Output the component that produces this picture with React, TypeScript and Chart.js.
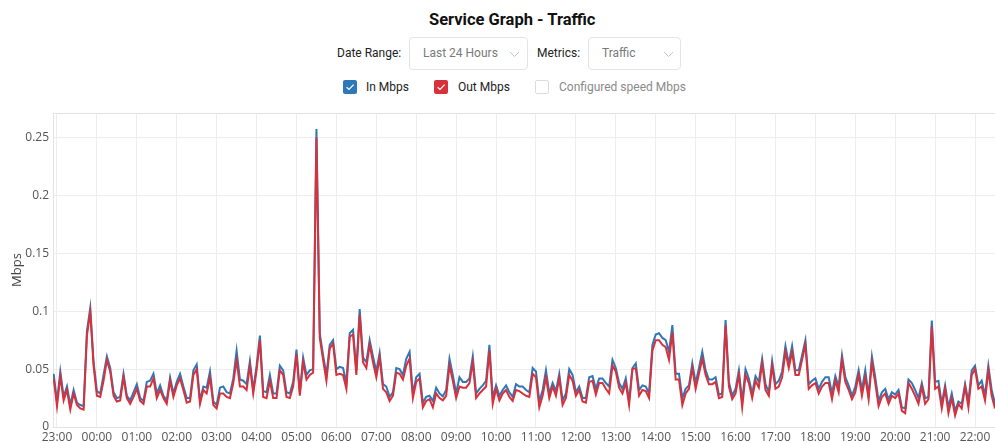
import React, { useEffect, useRef } from "react";
import { Chart, registerables } from "chart.js";

Chart.register(...registerables);

// Time axis: samples every 5 minutes, first sample at 22:55 (minutes relative to 23:00)
const START_MINUTE = -5;
const STEP_MINUTES = 5;

const HOUR_LABELS = [
  "23:00", "00:00", "01:00", "02:00", "03:00", "04:00", "05:00", "06:00",
  "07:00", "08:00", "09:00", "10:00", "11:00", "12:00", "13:00", "14:00",
  "15:00", "16:00", "17:00", "18:00", "19:00", "20:00", "21:00", "22:00",
];

const Y_TICK_LABELS = ["0", "0.05", "0.1", "0.15", "0.2", "0.25"];

// In Mbps (blue)
const IN_MBPS = [
  0.046, 0.022, 0.048, 0.026, 0.035, 0.019, 0.032, 0.021, 0.019, 0.018,
  0.083, 0.103, 0.056, 0.031, 0.029, 0.045, 0.061, 0.051, 0.030, 0.025,
  0.026, 0.046, 0.027, 0.023, 0.030, 0.037, 0.025, 0.0225, 0.039, 0.040,
  0.046, 0.029, 0.036, 0.027, 0.023, 0.043, 0.029, 0.039, 0.046, 0.035,
  0.025, 0.025, 0.049, 0.054, 0.023, 0.035, 0.034, 0.048, 0.022, 0.019,
  0.034, 0.035, 0.030, 0.029, 0.042, 0.066, 0.041, 0.040, 0.037, 0.057,
  0.032, 0.053, 0.079, 0.031, 0.030, 0.045, 0.029, 0.029, 0.053, 0.049,
  0.030, 0.029, 0.039, 0.067, 0.030, 0.060, 0.045, 0.049, 0.050, 0.2575,
  0.081, 0.062, 0.045, 0.071, 0.075, 0.050, 0.052, 0.051, 0.038, 0.081,
  0.084, 0.049, 0.102, 0.060, 0.056, 0.075, 0.061, 0.048, 0.064, 0.037,
  0.035, 0.026, 0.030, 0.051, 0.050, 0.045, 0.059, 0.065, 0.029, 0.043,
  0.046, 0.021, 0.026, 0.027, 0.0225, 0.034, 0.029, 0.0265, 0.032, 0.059,
  0.045, 0.029, 0.043, 0.039, 0.039, 0.042, 0.061, 0.029, 0.033, 0.036,
  0.040, 0.071, 0.025, 0.036, 0.027, 0.032, 0.036, 0.030, 0.026, 0.037,
  0.035, 0.035, 0.032, 0.030, 0.051, 0.048, 0.022, 0.032, 0.049, 0.029,
  0.038, 0.031, 0.046, 0.023, 0.029, 0.050, 0.045, 0.030, 0.035, 0.025,
  0.025, 0.043, 0.044, 0.033, 0.042, 0.042, 0.038, 0.035, 0.058, 0.051,
  0.038, 0.033, 0.042, 0.023, 0.051, 0.055, 0.032, 0.036, 0.035, 0.029,
  0.071, 0.080, 0.081, 0.077, 0.075, 0.065, 0.088, 0.046, 0.046, 0.025,
  0.033, 0.036, 0.055, 0.038, 0.051, 0.065, 0.049, 0.041, 0.041, 0.043,
  0.028, 0.029, 0.0925, 0.039, 0.027, 0.033, 0.049, 0.022, 0.050, 0.042,
  0.029, 0.044, 0.039, 0.059, 0.037, 0.030, 0.057, 0.037, 0.040, 0.048,
  0.070, 0.055, 0.070, 0.049, 0.049, 0.062, 0.075, 0.037, 0.040, 0.042,
  0.033, 0.039, 0.043, 0.043, 0.029, 0.044, 0.035, 0.062, 0.043, 0.036,
  0.027, 0.035, 0.049, 0.032, 0.049, 0.027, 0.061, 0.043, 0.0225, 0.030,
  0.033, 0.024, 0.030, 0.028, 0.032, 0.017, 0.016, 0.041, 0.038, 0.032,
  0.025, 0.038, 0.025, 0.026, 0.092, 0.039, 0.040, 0.020, 0.036, 0.017,
  0.029, 0.014, 0.022, 0.020, 0.037, 0.022, 0.049, 0.053, 0.036, 0.040,
  0.027, 0.053, 0.032, 0.020,
];

// Out Mbps (red)
const OUT_MBPS = [
  0.042, 0.018, 0.044, 0.023, 0.032, 0.015, 0.029, 0.019, 0.016, 0.015,
  0.079, 0.0995, 0.053, 0.027, 0.026, 0.040, 0.058, 0.048, 0.027, 0.022,
  0.023, 0.043, 0.025, 0.020, 0.026, 0.033, 0.0225, 0.020, 0.035, 0.035,
  0.042, 0.025, 0.032, 0.025, 0.020, 0.040, 0.026, 0.036, 0.042, 0.032,
  0.021, 0.022, 0.045, 0.050, 0.020, 0.032, 0.029, 0.043, 0.019, 0.016,
  0.029, 0.029, 0.026, 0.025, 0.038, 0.058, 0.035, 0.035, 0.032, 0.053,
  0.029, 0.049, 0.075, 0.026, 0.025, 0.040, 0.025, 0.025, 0.049, 0.045,
  0.026, 0.025, 0.035, 0.063, 0.027, 0.056, 0.041, 0.045, 0.047, 0.250,
  0.077, 0.058, 0.040, 0.068, 0.072, 0.045, 0.046, 0.045, 0.033, 0.078,
  0.080, 0.045, 0.097, 0.056, 0.051, 0.071, 0.056, 0.043, 0.060, 0.033,
  0.030, 0.0225, 0.027, 0.047, 0.046, 0.041, 0.053, 0.059, 0.025, 0.039,
  0.042, 0.017, 0.0225, 0.024, 0.017, 0.029, 0.025, 0.023, 0.027, 0.053,
  0.040, 0.025, 0.035, 0.034, 0.034, 0.038, 0.056, 0.025, 0.029, 0.032,
  0.035, 0.066, 0.020, 0.033, 0.023, 0.029, 0.032, 0.026, 0.0225, 0.032,
  0.031, 0.029, 0.027, 0.026, 0.046, 0.043, 0.017, 0.027, 0.043, 0.025,
  0.035, 0.027, 0.042, 0.019, 0.025, 0.045, 0.040, 0.027, 0.032, 0.022,
  0.021, 0.039, 0.040, 0.028, 0.038, 0.038, 0.033, 0.029, 0.053, 0.048,
  0.034, 0.029, 0.038, 0.019, 0.050, 0.051, 0.027, 0.032, 0.031, 0.025,
  0.066, 0.075, 0.075, 0.071, 0.069, 0.058, 0.082, 0.041, 0.041, 0.019,
  0.029, 0.033, 0.051, 0.033, 0.046, 0.059, 0.045, 0.037, 0.037, 0.039,
  0.025, 0.026, 0.088, 0.035, 0.024, 0.029, 0.045, 0.017, 0.045, 0.038,
  0.025, 0.040, 0.034, 0.055, 0.032, 0.027, 0.053, 0.033, 0.035, 0.043,
  0.065, 0.051, 0.065, 0.045, 0.045, 0.058, 0.071, 0.033, 0.036, 0.038,
  0.029, 0.035, 0.038, 0.038, 0.024, 0.040, 0.030, 0.058, 0.039, 0.032,
  0.024, 0.030, 0.045, 0.027, 0.043, 0.024, 0.056, 0.038, 0.018, 0.026,
  0.029, 0.020, 0.027, 0.025, 0.029, 0.014, 0.012, 0.038, 0.033, 0.027,
  0.020, 0.035, 0.020, 0.024, 0.087, 0.033, 0.035, 0.016, 0.033, 0.012,
  0.025, 0.010, 0.020, 0.016, 0.035, 0.017, 0.045, 0.050, 0.033, 0.035,
  0.023, 0.049, 0.027, 0.016,
];

const BLUE = "#2f77b8";
const RED = "#d7313c";

const toPoints = (vals: number[]) =>
  vals.map((v, i) => ({ x: START_MINUTE + i * STEP_MINUTES, y: v }));

const framePlugin = {
  id: "frameTop",
  beforeDatasetsDraw(chart: any) {
    const { ctx, chartArea: a } = chart;
    ctx.save();
    ctx.strokeStyle = "#e2e2ea";
    ctx.lineWidth = 1;
    ctx.beginPath();
    ctx.moveTo(a.left, Math.round(a.top) + 0.5);
    ctx.lineTo(a.right, Math.round(a.top) + 0.5);
    ctx.stroke();
    ctx.restore();
  },
};

const Check = () => (
  <svg width="14" height="14" viewBox="0 0 14 14" style={{ position: "absolute", left: 0, top: 0 }}>
    <path d="M3.6 7.2 L6 9.4 L10.6 4.6" fill="none" stroke="#fff" strokeWidth="1.2" />
  </svg>
);

const Chevron = ({ left }: { left: number }) => (
  <svg width="11" height="7" viewBox="0 0 11 7" style={{ position: "absolute", left, top: 13 }}>
    <path d="M1 1 L5.5 5.5 L10 1" fill="none" stroke="#c4c4c4" strokeWidth="1" />
  </svg>
);

const font = "Roboto, 'Noto Sans', sans-serif";

export default function App() {
  const canvasRef = useRef<HTMLCanvasElement | null>(null);

  useEffect(() => {
    if (!canvasRef.current) return;
    const chart = new Chart(canvasRef.current, {
      type: "line",
      data: {
        datasets: [
          {
            label: "Out Mbps",
            data: toPoints(OUT_MBPS),
            borderColor: RED,
            backgroundColor: RED,
            borderWidth: 2,
            pointRadius: 0,
            tension: 0,
            order: 0,
          },
          {
            label: "In Mbps",
            data: toPoints(IN_MBPS),
            borderColor: BLUE,
            backgroundColor: BLUE,
            borderWidth: 2,
            pointRadius: 0,
            tension: 0,
            order: 1,
          },
        ],
      },
      options: {
        animation: false,
        responsive: false,
        devicePixelRatio: 1,
        layout: { padding: { top: 5, left: 0, right: 0, bottom: 0 } },
        plugins: { legend: { display: false }, tooltip: { enabled: false } },
        scales: {
          x: {
            type: "linear",
            min: -6,
            max: 1410,
            ticks: {
              stepSize: 60,
              includeBounds: false,
              autoSkip: false,
              maxRotation: 0,
              padding: 3,
              color: "#555",
              font: { family: "'Open Sans'", size: 12 },
              callback: (v: any) => HOUR_LABELS[Math.round(Number(v) / 60)] ?? "",
            },
            grid: { color: "#ededed", drawTicks: false },
            border: { display: true, color: "#e2e2ea" },
            afterFit: (s: any) => {
              s.height = 16;
              s.paddingLeft = 0;
              s.paddingRight = 0;
            },
          },
          y: {
            min: 0,
            max: 0.2714,
            ticks: {
              stepSize: 0.05,
              includeBounds: false,
              padding: 4,
              color: "#555",
              font: { family: "'Open Sans'", size: 12 },
              callback: (v: any) => Y_TICK_LABELS[Math.round(Number(v) / 0.05)] ?? "",
            },
            title: {
              display: true,
              text: "Mbps",
              color: "#444",
              font: { family: "'Open Sans'", size: 13 },
              padding: { top: 9, bottom: 0 },
            },
            grid: { color: "#ededed", drawTicks: false },
            border: { display: true, color: "#e2e2ea" },
            afterFit: (s: any) => {
              s.width = 53;
              s.paddingTop = 0;
              s.paddingBottom = 0;
            },
          },
        },
      },
      plugins: [framePlugin],
    });
    return () => chart.destroy();
  }, []);

  const label = (text: string, left: number, top: number, color = "#222") => (
    <div
      style={{
        position: "absolute",
        left,
        top,
        fontFamily: font,
        fontSize: 12,
        lineHeight: "16px",
        color,
        whiteSpace: "nowrap",
      }}
    >
      {text}
    </div>
  );

  const box = (left: number, width: number, text: string, chevronLeft: number) => (
    <div
      style={{
        position: "absolute",
        left,
        top: 37,
        width,
        height: 33,
        boxSizing: "border-box",
        border: "1px solid #e4e4e4",
        borderRadius: 4,
        background: "#fff",
      }}
    >
      <div
        style={{
          position: "absolute",
          left: 13,
          top: 7,
          fontFamily: font,
          fontSize: 12,
          lineHeight: "16px",
          color: "#7a7a7a",
          whiteSpace: "nowrap",
        }}
      >
        {text}
      </div>
      <Chevron left={chevronLeft} />
    </div>
  );

  const checkbox = (left: number, color: string | null) => (
    <div
      style={{
        position: "absolute",
        left,
        top: 80,
        width: 14,
        height: 14,
        boxSizing: "border-box",
        borderRadius: 2,
        background: color ?? "#fff",
        border: color ? "none" : "1px solid #dcdcdc",
      }}
    >
      {color ? <Check /> : null}
    </div>
  );

  return (
    <div
      style={{
        position: "absolute",
        left: 0,
        top: 0,
        width: 995,
        height: 443,
        overflow: "hidden",
        background: "#fff",
      }}
    >
      <div
        style={{
          position: "absolute",
          left: 429,
          top: 10,
          fontFamily: font,
          fontSize: 16.5,
          fontWeight: 700,
          lineHeight: "20px",
          color: "#111",
          whiteSpace: "nowrap",
        }}
      >
        Service Graph - Traffic
      </div>
      {label("Date Range:", 337, 45)}
      {box(409, 119, "Last 24 Hours", 99)}
      {label("Metrics:", 537, 45)}
      {box(588, 93, "Traffic", 74)}
      {checkbox(343, BLUE)}
      {label("In Mbps", 366, 79)}
      {checkbox(434, RED)}
      {label("Out Mbps", 458, 79)}
      {checkbox(535, null)}
      {label("Configured speed Mbps", 559, 79, "#8a8a8a")}
      <canvas
        ref={canvasRef}
        width={995}
        height={335}
        style={{ position: "absolute", left: 0, top: 108, width: 995, height: 335 }}
      />
    </div>
  );
}
